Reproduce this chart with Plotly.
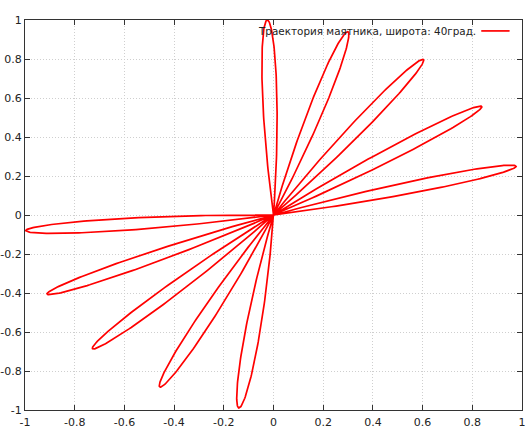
import numpy as np
import plotly.graph_objects as go

# Petal tips of the pendulum trajectory (in swing order)
tip_x = [-0.025, -0.137, 0.300, -0.456, 0.605, -0.726, 0.839, -0.911, 0.976, -0.997]
tip_y = [1.000, -0.990, 0.940, -0.883, 0.796, -0.688, 0.555, -0.406, 0.252, -0.080]

tick_vals = [-1, -0.8, -0.6, -0.4, -0.2, 0, 0.2, 0.4, 0.6, 0.8, 1]
tick_text = ["-1", "-0.8", "-0.6", "-0.4", "-0.2", "0", "0.2", "0.4", "0.6", "0.8", "1"]
legend_label = "Траектория маятника, широта: 40град."

# Build the trajectory: each half-swing goes out from the centre to a tip and back,
# while the swing plane turns steadily between consecutive tips.
amp = np.hypot(tip_x, tip_y)
theta = np.degrees(np.arctan2(tip_y, tip_x))
alpha, sign = [theta[0]], [1.0]
for t in theta[1:]:
    prev = alpha[-1]
    cands = [(t, 1.0), (t - 180, -1.0), (t + 180, -1.0), (t - 360, 1.0), (t + 360, 1.0)]
    a, s = min(cands, key=lambda c: abs(c[0] - prev))
    alpha.append(a)
    sign.append(s)
alpha = np.array(alpha)
n = len(alpha)
bounds = [alpha[0] + (alpha[0] - alpha[1]) / 2]
for k in range(1, n):
    bounds.append((alpha[k - 1] + alpha[k]) / 2)
bounds.append(alpha[-1] - (alpha[-2] - alpha[-1]) / 2)

xs, ys = [], []
ss = np.linspace(0, 1, 160)
for k in range(n):
    rho = sign[k] * amp[k] * np.sin(np.pi * ss)
    ang = bounds[k] + (bounds[k + 1] - bounds[k]) * ss
    xs.extend(rho * np.cos(np.radians(ang)))
    ys.extend(rho * np.sin(np.radians(ang)))

fig = go.Figure()
fig.add_trace(go.Scatter(x=xs, y=ys, mode="lines",
                         line=dict(color="#ff0000", width=1.7),
                         showlegend=False, hoverinfo="skip"))

axis_common = dict(
    range=[-1, 1], tickvals=tick_vals, ticktext=tick_text,
    showgrid=True, gridcolor="#cfcfcf", griddash="1px,2px", gridwidth=1,
    zeroline=False, showline=True, linecolor="#333333", linewidth=1.2,
    mirror="allticks", ticks="inside", ticklen=5, tickcolor="#333333",
    tickfont=dict(family="DejaVu Sans", size=11, color="#222222"),
    automargin=False,
)
fig.update_xaxes(**axis_common, ticklabelstandoff=2)
fig.update_yaxes(**axis_common)

fig.add_annotation(xref="paper", yref="paper", x=0.911, y=0.972,
                   xanchor="right", yanchor="middle", showarrow=False,
                   text=legend_label,
                   font=dict(family="DejaVu Sans", size=10.4, color="#222222"))
fig.add_shape(type="line", xref="paper", yref="paper",
              x0=0.918, x1=0.975, y0=0.972, y1=0.972,
              line=dict(color="#ff0000", width=1.7))

fig.update_layout(
    width=526, height=426,
    margin=dict(l=25, r=4, t=20, b=16),
    paper_bgcolor="white", plot_bgcolor="white",
)
fig.write_html("out.html", config={"displayModeBar": False},
               post_script="document.body.style.margin='0';")
